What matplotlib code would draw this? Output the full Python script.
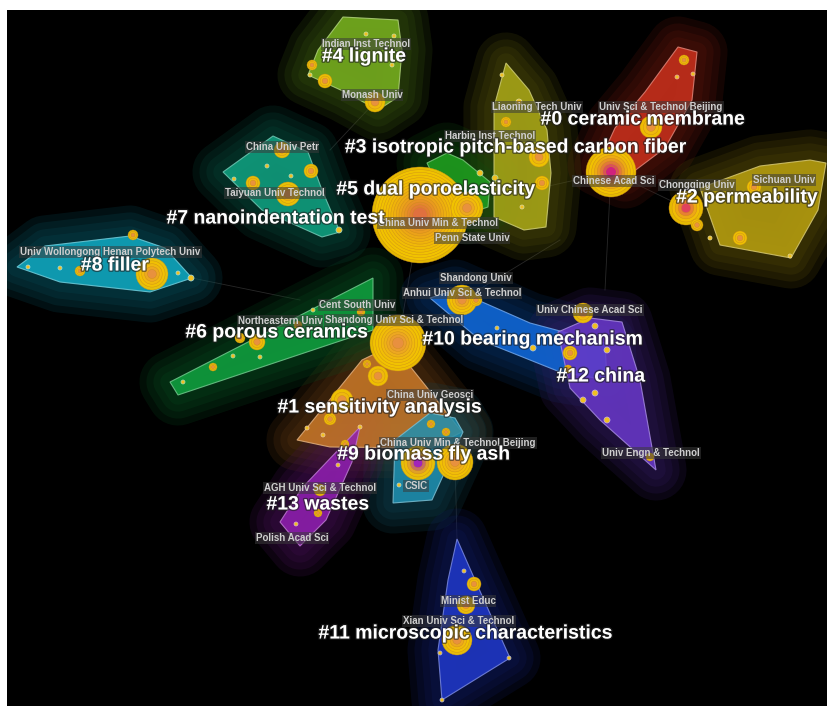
import numpy as np
import matplotlib
matplotlib.use("Agg")
import matplotlib.pyplot as plt
import matplotlib.patheffects as pe
from matplotlib.patches import Polygon, Circle
from matplotlib.colors import to_rgb

plt.rcParams['font.family'] = ['Liberation Sans', 'DejaVu Sans']

# cluster hulls (pixel coords of the map) and nodes (x, y, radius)
c0_poly = [(678, 47), (697, 52), (692, 100), (665, 148), (625, 178), (598, 165), (615, 128), (645, 92)]
c0_nodes = [(684, 60, 5), (677, 77, 2), (693, 74, 2), (651, 127, 11), (611, 172, 25)]
c1_poly = [(297, 440), (362, 360), (393, 345), (425, 385), (462, 432), (430, 448), (330, 447)]
c1_nodes = [(378, 376, 10), (367, 364, 4), (342, 400, 11), (330, 419, 6), (307, 428, 2),
            (323, 435, 2), (360, 427, 2), (431, 424, 4), (446, 432, 4)]
c2_poly = [(700, 188), (760, 166), (810, 160), (826, 163), (818, 210), (791, 258), (720, 245)]
c2_nodes = [(686, 208, 17), (697, 225, 6), (740, 238, 7), (754, 187, 7), (710, 238, 2), (790, 256, 2)]
c3_poly = [(506, 63), (529, 90), (547, 130), (551, 173), (546, 227), (524, 230), (494, 217), (494, 107)]
c3_nodes = [(506, 122, 5), (539, 157, 10), (542, 183, 7), (522, 207, 2), (502, 75, 2), (519, 102, 3)]
c4_poly = [(343, 17), (398, 20), (402, 50), (398, 97), (378, 110), (345, 92), (308, 75), (318, 50)]
c4_nodes = [(312, 65, 5), (325, 81, 7), (366, 34, 2), (394, 36, 2), (392, 65, 2), (375, 102, 10), (310, 75, 2)]
c5_poly = [(427, 163), (447, 153), (463, 160), (490, 182), (488, 207), (467, 214), (440, 190)]
c5_nodes = [(420, 215, 48), (467, 208, 16), (480, 173, 3), (495, 178, 3)]
c6_poly = [(170, 382), (373, 278), (373, 330), (178, 395)]
c6_nodes = [(398, 343, 28), (257, 342, 8), (240, 338, 5), (213, 367, 4), (233, 356, 2), (260, 357, 2),
            (183, 382, 2), (298, 325, 4), (313, 310, 2), (361, 312, 4)]
c7_poly = [(223, 172), (273, 136), (308, 152), (322, 190), (340, 232), (322, 237), (262, 210)]
c7_nodes = [(282, 150, 8), (311, 171, 7), (267, 166, 2), (253, 183, 7), (234, 179, 2), (288, 194, 12),
            (291, 176, 2), (339, 230, 3)]
c8_poly = [(17, 267), (45, 246), (130, 236), (165, 248), (192, 278), (150, 292), (60, 282)]
c8_nodes = [(133, 235, 5), (152, 274, 16), (80, 271, 5), (60, 268, 2), (28, 267, 2), (178, 273, 2), (191, 278, 3)]
c9_poly = [(395, 440), (430, 413), (455, 418), (463, 432), (432, 500), (393, 503)]
c9_nodes = [(418, 463, 17), (455, 462, 18), (399, 485, 2)]
c10_poly = [(430, 298), (455, 290), (530, 323), (605, 343), (607, 380), (560, 372), (480, 340)]
c10_nodes = [(462, 300, 15), (476, 300, 6), (497, 328, 2), (533, 348, 3), (570, 353, 7), (568, 369, 4)]
c11_poly = [(457, 539), (475, 580), (510, 658), (442, 700), (438, 650), (448, 580)]
c11_nodes = [(464, 571, 2), (474, 584, 7), (466, 605, 9), (457, 640, 15), (440, 653, 2), (509, 658, 2), (442, 700, 2)]
c12_poly = [(558, 332), (590, 318), (622, 322), (640, 380), (656, 470), (600, 420), (570, 388)]
c12_nodes = [(583, 313, 10), (595, 326, 3), (607, 350, 3), (595, 393, 3), (583, 400, 3), (607, 420, 3), (650, 457, 4)]
c13_poly = [(360, 427), (352, 462), (326, 520), (300, 546), (280, 522), (302, 488)]
c13_nodes = [(345, 444, 4), (320, 490, 6), (318, 513, 4), (296, 524, 2), (338, 465, 2)]

cluster_colors = ['#c8301c', '#c87828', '#b8a010', '#aaa818', '#78b020', '#20a020', '#10a040',
                  '#10a080', '#10a8c0', '#2090b0', '#1068d8', '#2038c8', '#6838c8', '#9020b0']
cluster_polys = [c0_poly, c1_poly, c2_poly, c3_poly, c4_poly, c5_poly, c6_poly,
                 c7_poly, c8_poly, c9_poly, c10_poly, c11_poly, c12_poly, c13_poly]
cluster_nodes = [c0_nodes, c1_nodes, c2_nodes, c3_nodes, c4_nodes, c5_nodes, c6_nodes,
                 c7_nodes, c8_nodes, c9_nodes, c10_nodes, c11_nodes, c12_nodes, c13_nodes]

cluster_labels = ['#0 ceramic membrane', '#1 sensitivity analysis', '#2 permeability',
                  '#3 isotropic pitch-based carbon fiber', '#4 lignite', '#5 dual poroelasticity',
                  '#6 porous ceramics', '#7 nanoindentation test', '#8 filler', '#9 biomass fly ash',
                  '#10 bearing mechanism', '#11 microscopic characteristics', '#12 china', '#13 wastes']
cluster_label_pos = [(643, 120), (380, 408), (747, 198), (516, 148), (364, 57), (436, 190),
                     (277, 333), (276, 219), (115, 266), (424, 455), (533, 340), (466, 634),
                     (601, 377), (318, 505)]

inst_names = ['Indian Inst Technol', 'Monash Univ', 'Liaoning Tech Univ', 'Univ Sci & Technol Beijing',
              'Harbin Inst Technol', 'China Univ Petr', 'Taiyuan Univ Technol', 'Chinese Acad Sci',
              'Chongqing Univ', 'Sichuan Univ', 'China Univ Min & Technol', 'Penn State Univ',
              'Univ Wollongong', 'Henan Polytech Univ', 'Shandong Univ', 'Anhui Univ Sci & Technol',
              'Cent South Univ', 'Northeastern Univ', 'Shandong Univ Sci & Technol', 'Univ Chinese Acad Sci',
              'China Univ Geosci', 'China Univ Min & Technol Beijing', 'CSIC', 'AGH Univ Sci & Technol',
              'Polish Acad Sci', 'Univ Engn & Technol', 'Minist Educ', 'Xian Univ Sci & Technol']
inst_pos = [(366, 44), (372, 95), (537, 107), (661, 107), (490, 136), (282, 147), (275, 193),
            (614, 181), (697, 185), (784, 180), (438, 223), (472, 238), (60, 252), (152, 252),
            (476, 278), (462, 293), (357, 305), (280, 321), (394, 320), (590, 310), (430, 395),
            (458, 443), (416, 486), (320, 488), (292, 538), (651, 453), (468, 601), (459, 621)]

# faint inter-cluster links
links = [((420, 215), (611, 172)), ((611, 172), (686, 208)), ((420, 215), (398, 343)),
         ((398, 343), (462, 300)), ((192, 278), (300, 300)), ((455, 462), (457, 539)),
         ((611, 172), (605, 290)), ((375, 102), (330, 150)), ((462, 300), (560, 240))]

core_colors = {(418, 463): '#a020c0', (611, 172): '#d02080', (686, 208): '#e04060',
               (420, 215): '#e07040'}

fig = plt.figure(figsize=(8.28, 7.06), dpi=100, facecolor='white')
ax = fig.add_axes([7 / 828, 0, 821 / 828, 696 / 706])
ax.set_facecolor('black')
ax.set_xlim(7, 828)
ax.set_ylim(706, 10)
ax.set_xticks([])
ax.set_yticks([])
for s in ax.spines.values():
    s.set_visible(False)

for a, b in links:
    ax.plot([a[0], b[0]], [a[1], b[1]], color='#505050', lw=0.6, alpha=0.5, zorder=1)

# soft glow halos then hulls
for poly, col in zip(cluster_polys, cluster_colors):
    dark = tuple(c * 0.5 for c in to_rgb(col))
    for lw in [44, 34, 24, 14]:
        ax.add_patch(Polygon(poly, closed=True, facecolor=dark, edgecolor=dark, lw=lw,
                             alpha=0.2, joinstyle='round', zorder=2))
for poly, col in zip(cluster_polys, cluster_colors):
    light = tuple(min(1, c * 0.6 + 0.4) for c in to_rgb(col))
    ax.add_patch(Polygon(poly, closed=True, facecolor=col, edgecolor=light, lw=0.8,
                         alpha=0.85, zorder=3))


def draw_node(x, y, r, col):
    if r <= 3:
        light = tuple(min(1, c * 0.4 + 0.6) for c in to_rgb(col))
        ax.add_patch(Circle((x, y), r, facecolor='#f0c020', edgecolor=light, lw=0.5, zorder=5))
        return
    core = core_colors.get((x, y), '#e89040')
    outer = np.array(to_rgb('#f2c400'))
    inner = np.array(to_rgb(core))
    n = max(3, int(r / 3))
    for i in range(n):
        t = (i / (n - 1)) ** 2.2
        cc = outer * (1 - t) + inner * t
        rr = r * (1 - 0.9 * i / n)
        ax.add_patch(Circle((x, y), rr, facecolor=cc, edgecolor=(0.8, 0.55, 0.1),
                            lw=0.3, alpha=0.95, zorder=5))


for nodes, col in zip(cluster_nodes, cluster_colors):
    for x, y, r in nodes:
        draw_node(x, y, r, col)

for name, (x, y) in zip(inst_names, inst_pos):
    ax.text(x, y, name, color='#cfcfcf', fontsize=7, ha='center', va='center', zorder=7,
            fontweight='bold',
            bbox=dict(boxstyle='square,pad=0.1', facecolor='#3a3a3a', edgecolor='none', alpha=0.55))

for lab, (x, y) in zip(cluster_labels, cluster_label_pos):
    ax.text(x, y, lab, color='white', fontsize=14, fontweight='bold', ha='center', va='center',
            zorder=8, path_effects=[pe.withStroke(linewidth=2, foreground='#202020', alpha=0.6)])

fig.savefig('out.png', dpi=100, facecolor='white')
